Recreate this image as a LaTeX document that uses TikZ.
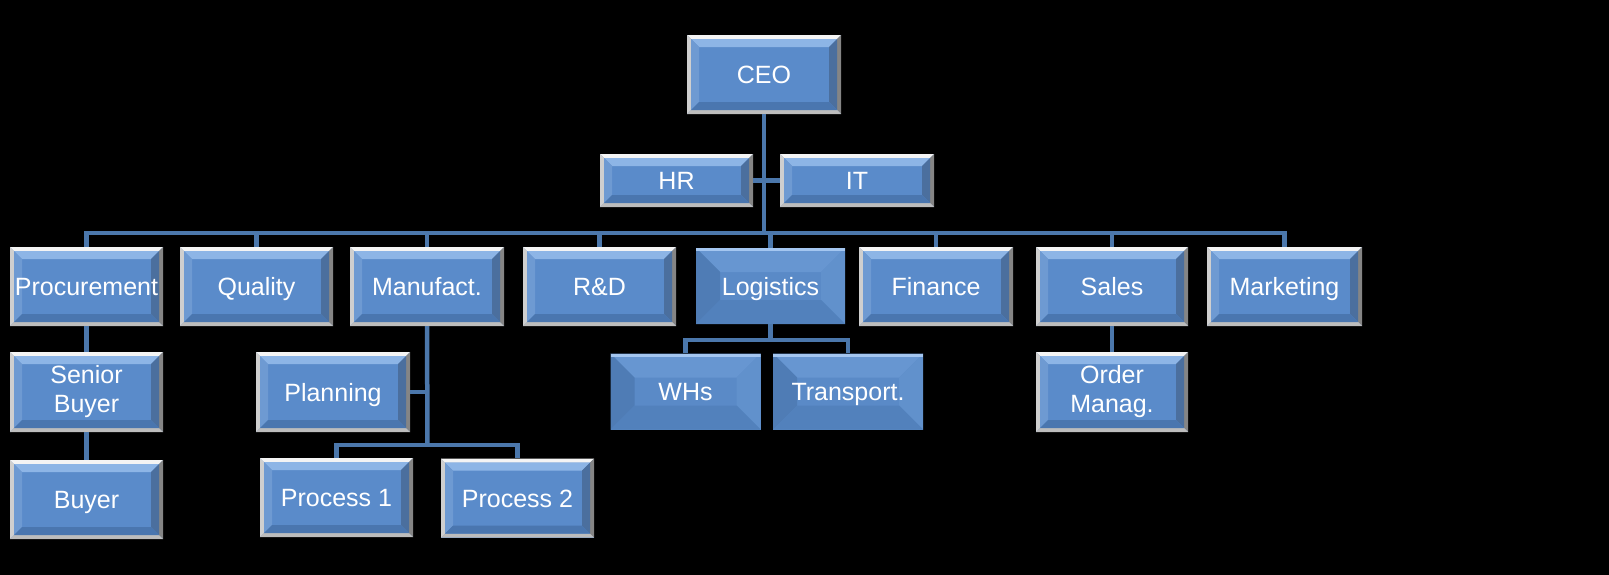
\documentclass[tikz,border=0pt]{standalone}
\usepackage{fontspec}
\setmainfont{Liberation Sans}
\usetikzlibrary{calc}

\definecolor{boxface}{HTML}{5A8BCA}
\definecolor{frtop}{HTML}{F4F4F4}
\definecolor{frleft}{HTML}{CFCFCF}
\definecolor{frright}{HTML}{858585}
\definecolor{frbottom}{HTML}{BDBDBD}
\definecolor{bvtop}{HTML}{8DB5E6}
\definecolor{bvleft}{HTML}{6E9AD2}
\definecolor{bvright}{HTML}{4B6F9E}
\definecolor{bvbottom}{HTML}{4A76AF}
\definecolor{agface}{HTML}{5A8AC7}
\definecolor{agtop}{HTML}{6796D1}
\definecolor{agleft}{HTML}{4F7CB5}
\definecolor{agright}{HTML}{6191CC}
\definecolor{agbottom}{HTML}{5281BC}
\definecolor{aghi}{HTML}{A4C6F0}
\definecolor{linkblue}{HTML}{4B77AB}

\newcommand\boxfont{\fontsize{25}{29}\selectfont}

% four bands between two insets: #1 outer, #2 inner, then top/left/right/bottom colours
\newcommand\bevelring[6]{%
  \fill[#3] let \p1=(path picture bounding box.south west), \p2=(path picture bounding box.north east) in
    (\x1+#1,\y2-#1) -- (\x2-#1,\y2-#1) -- (\x2-#2,\y2-#2) -- (\x1+#2,\y2-#2) -- cycle;
  \fill[#4] let \p1=(path picture bounding box.south west), \p2=(path picture bounding box.north east) in
    (\x1+#1,\y2-#1) -- (\x1+#2,\y2-#2) -- (\x1+#2,\y1+#2) -- (\x1+#1,\y1+#1) -- cycle;
  \fill[#5] let \p1=(path picture bounding box.south west), \p2=(path picture bounding box.north east) in
    (\x2-#1,\y2-#1) -- (\x2-#2,\y2-#2) -- (\x2-#2,\y1+#2) -- (\x2-#1,\y1+#1) -- cycle;
  \fill[#6] let \p1=(path picture bounding box.south west), \p2=(path picture bounding box.north east) in
    (\x1+#1,\y1+#1) -- (\x2-#1,\y1+#1) -- (\x2-#2,\y1+#2) -- (\x1+#2,\y1+#2) -- cycle;
}

\tikzset{
  unit/.style={rectangle, inner sep=0pt, minimum width=153pt, minimum height=79pt,
    fill=boxface, text=white, font=\boxfont, align=center,
    path picture={\bevelring{0pt}{4pt}{frtop}{frleft}{frright}{frbottom}
      \bevelring{4pt}{12pt}{bvtop}{bvleft}{bvright}{bvbottom}}},
  unitangle/.style={rectangle, inner sep=0pt, minimum width=150pt, minimum height=76pt,
    fill=agface, text=white, font=\boxfont, align=center,
    path picture={\bevelring{0pt}{24pt}{agtop}{agleft}{agright}{agbottom}
      \fill[aghi] let \p1=(path picture bounding box.south west), \p2=(path picture bounding box.north east) in
        (\x1,\y2) rectangle (\x2,\y2-3pt);}},
  oneline/.style={text height=18pt, text depth=0pt},
  link/.style={draw=linkblue, line width=4.5pt},
}

\begin{document}
\begin{tikzpicture}[x=1pt,y=-1pt]
  % background
  \useasboundingbox (0,0) rectangle (1609,574);
  \fill[black] (-6,-6) rectangle (1615,580);

  % top
  \node[unit, oneline, minimum width=154pt] (ceo) at (764,74.5) {CEO};
  \node[unit, oneline, minimum height=53pt] (hr) at (676.5,180.5) {HR};
  \node[unit, oneline, minimum width=154pt, minimum height=53pt] (it) at (857,180.5) {IT};

  % departments
  \node[unit, oneline] (procurement) at (86.5,286.5) {Procurement};
  \node[unit, oneline] (quality) at (256.5,286.5) {Quality};
  \node[unit, oneline, minimum width=154pt] (manufact) at (427,286.5) {Manufact.};
  \node[unit, oneline] (rnd) at (599.5,286.5) {R\&D};
  \node[unitangle, oneline, minimum width=149pt] (logistics) at (770.5,286) {Logistics};
  \node[unit, oneline, minimum width=154pt] (finance) at (936,286.5) {Finance};
  \node[unit, oneline, minimum width=152pt] (sales) at (1112,286.5) {Sales};
  \node[unit, oneline, minimum width=155pt] (marketing) at (1284.5,286.5) {Marketing};

  % lower levels
  \node[unit, minimum height=80pt] (senior) at (86.5,392) {Senior\\Buyer};
  \node[unit, oneline] (buyer) at (86.5,499.5) {Buyer};
  \node[unit, oneline, minimum width=154pt, minimum height=80pt] (planning) at (333,392) {Planning};
  \node[unit, oneline] (proc1) at (336.5,497.5) {Process 1};
  \node[unit, oneline] (proc2) at (517.5,498) {Process 2};
  \node[unitangle, oneline] (whs) at (685.5,391.5) {WHs};
  \node[unitangle, oneline] (transport) at (848,391.5) {Transport.};
  \node[unit, minimum width=152pt, minimum height=80pt] (order) at (1112,392) {Order\\Manag.};

  % links
  \coordinate (bus) at (764,233);
  \draw[link] (ceo.south) -- (bus);
  \draw[link] (hr.east) -- (it.west);
  \foreach \n in {procurement,quality,manufact,rnd,logistics,finance,sales,marketing}
    \draw[link] (bus) -| (\n.north);

  \draw[link] (procurement.south) -- (senior.north);
  \draw[link] (senior.south) -- (buyer.north);

  \coordinate (mbus) at (427.5,445);
  \draw[link] (manufact.south) -- (mbus);
  \draw[link] (planning.east) -- (planning.east -| mbus);
  \draw[link] (mbus) -| (proc1.north);
  \draw[link] (mbus) -| (proc2.north);

  \coordinate (lbus) at (770.5,340);
  \draw[link] (logistics.south) -- (lbus);
  \draw[link] (lbus) -| (whs.north);
  \draw[link] (lbus) -| (transport.north);

  \draw[link] (sales.south) -- (order.north);
\end{tikzpicture}
\end{document}
